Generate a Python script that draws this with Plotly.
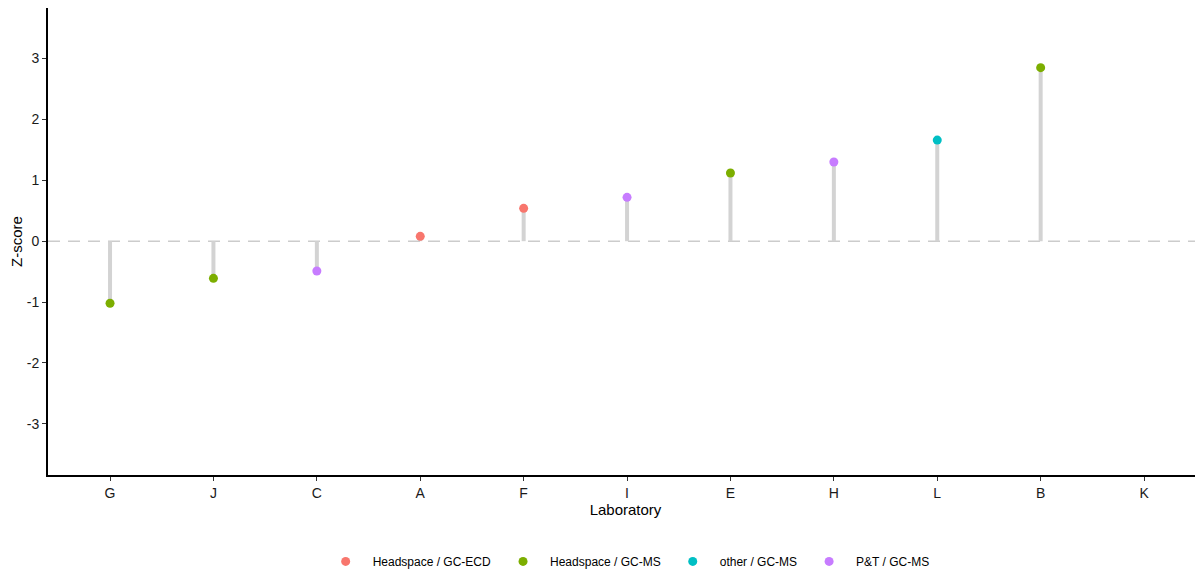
import plotly.graph_objects as go

labs = ["G", "J", "C", "A", "F", "I", "E", "H", "L", "B", "K"]
zscores = [-1.02, -0.61, -0.49, 0.08, 0.54, 0.72, 1.12, 1.30, 1.66, 2.85, None]
methods = ["Headspace / GC-MS", "Headspace / GC-MS", "P&T / GC-MS", "Headspace / GC-ECD",
           "Headspace / GC-ECD", "P&T / GC-MS", "Headspace / GC-MS", "P&T / GC-MS",
           "other / GC-MS", "Headspace / GC-MS", None]
method_order = ["Headspace / GC-ECD", "Headspace / GC-MS", "other / GC-MS", "P&T / GC-MS"]
method_colors = ["#F8766D", "#7CAE00", "#00BFC4", "#C77CFF"]
y_ticks = [-3, -2, -1, 0, 1, 2, 3]
y_ticktext = ["-3", "-2", "-1", "0", "1", "2", "3"]

fig = go.Figure()

# stems
sx, sy = [], []
for lab, z in zip(labs, zscores):
    if z is None:
        continue
    sx += [lab, lab, None]
    sy += [0, z, None]
fig.add_trace(go.Scatter(x=sx, y=sy, mode="lines", line=dict(color="#D3D3D3", width=4),
                         showlegend=False, hoverinfo="skip"))

# invisible trace to keep all categories
fig.add_trace(go.Scatter(x=labs, y=[None] * len(labs), mode="markers", showlegend=False,
                         hoverinfo="skip"))

for m, c in zip(method_order, method_colors):
    xs = [l for l, mm, z in zip(labs, methods, zscores) if mm == m and z is not None]
    ys = [z for l, mm, z in zip(labs, methods, zscores) if mm == m and z is not None]
    fig.add_trace(go.Scatter(x=xs, y=ys, mode="markers", name=m,
                             marker=dict(color=c, size=9)))

fig.add_shape(type="line", xref="paper", x0=0, x1=1, yref="y", y0=0, y1=0,
              line=dict(color="#CCCCCC", width=1.5, dash="12px,8px"), layer="below")

# the page body adds an 8px offset; margins compensate for it
fig.update_layout(
    width=1203, height=570,
    margin=dict(l=40, r=8, t=0, b=103),
    paper_bgcolor="white", plot_bgcolor="white",
    font=dict(family="Liberation Sans, Arial, sans-serif", color="black", size=15),
    showlegend=True,
    legend=dict(orientation="h", x=0.501, xanchor="center", y=-0.185, yanchor="middle",
                font=dict(size=12, color="black"), itemwidth=44, traceorder="normal"),
)
fig.update_xaxes(type="category", categoryorder="array", categoryarray=labs,
                 range=[-0.6, 10.57], showgrid=False, zeroline=False, automargin=False,
                 showline=True, linecolor="black", linewidth=2,
                 ticks="outside", ticklen=4, tickcolor="#333333",
                 tickfont=dict(size=14, color="#1a1a1a"),
                 title=dict(text="Laboratory", font=dict(size=15), standoff=4))
fig.update_yaxes(range=[-3.84, 3.83], tickvals=y_ticks, ticktext=y_ticktext,
                 showgrid=False, zeroline=False, automargin=False,
                 showline=True, linecolor="black", linewidth=2,
                 ticks="outside", ticklen=4, tickcolor="#333333",
                 tickfont=dict(size=14, color="#1a1a1a"),
                 title=dict(text="Z-score", font=dict(size=15), standoff=4))

fig.write_html("out.html")
